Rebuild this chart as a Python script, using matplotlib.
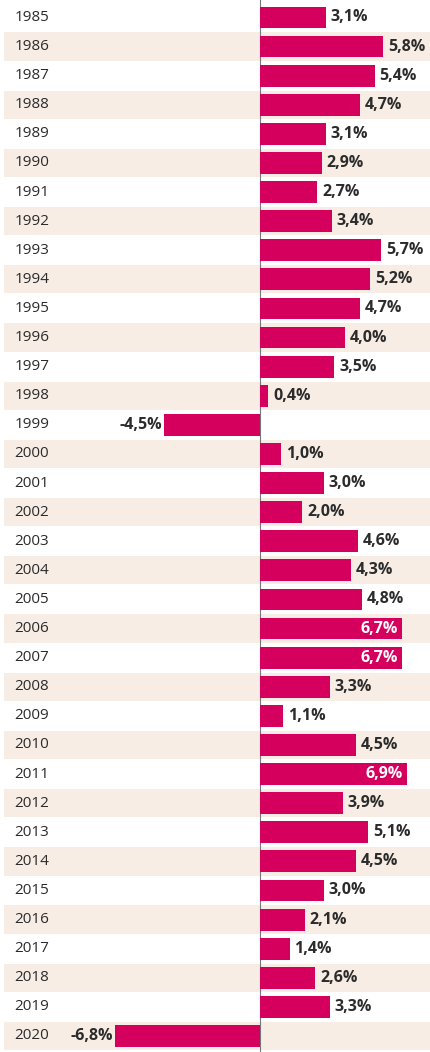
import matplotlib
matplotlib.use("Agg")
import matplotlib.pyplot as plt

years = list(range(1985, 2021))
values = [3.1, 5.8, 5.4, 4.7, 3.1, 2.9, 2.7, 3.4, 5.7, 5.2, 4.7, 4.0, 3.5, 0.4,
          -4.5, 1.0, 3.0, 2.0, 4.6, 4.3, 4.8, 6.7, 6.7, 3.3, 1.1, 4.5, 6.9, 3.9,
          5.1, 4.5, 3.0, 2.1, 1.4, 2.6, 3.3, -6.8]
labels = [f"{v:.1f}".replace(".", ",") + "%" for v in values]

BAR = "#D5005E"
STRIPE = "#F7EDE5"
TXT = "#2b2b2b"

fig = plt.figure(figsize=(4.30, 10.52), dpi=100)
ax = fig.add_axes([0, 0, 1, 1])
xmin, xmax = -12.235, 8.0
ax.set_xlim(xmin, xmax)
ax.set_ylim(35.55, -0.6)
ax.axis("off")

n = len(years)
for i in range(n):
    if i % 2 == 1:
        ax.barh(i, xmax - (-12.05), left=-12.05, height=0.97, color=STRIPE, zorder=0)

ax.barh(range(n), values, height=0.75, color=BAR, zorder=2)
ax.axvline(0, color="#777777", lw=0.8, zorder=1)

for i, (y, v, lab) in enumerate(zip(years, values, labels)):
    ax.text(-11.55, i, str(y), ha="left", va="center", fontsize=11,
            color=TXT, family="Open Sans")
    if v >= 6.5:
        ax.text(v - 0.2, i, lab, ha="right", va="center", fontsize=11.5,
                color="white", fontweight="bold", family="Open Sans", zorder=3)
    elif v >= 0:
        ax.text(v + 0.22, i, lab, ha="left", va="center", fontsize=11.5,
                color=TXT, fontweight="bold", family="Open Sans", zorder=3)
    else:
        ax.text(v - 0.12, i, lab, ha="right", va="center", fontsize=11.5,
                color=TXT, fontweight="bold", family="Open Sans", zorder=3)

fig.savefig("out.png", dpi=100)
